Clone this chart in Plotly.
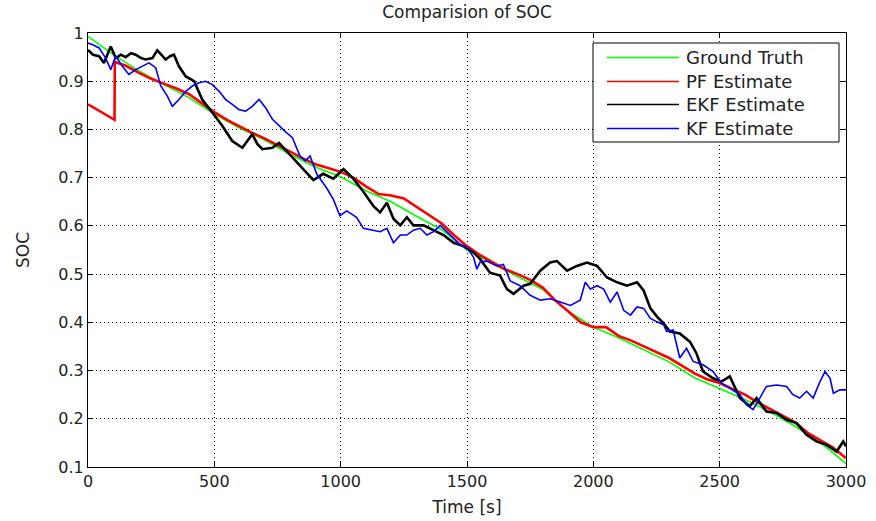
import plotly.graph_objects as go

# ---------------- data ----------------
t_gt = [0, 100, 200, 300, 400, 500, 600, 700, 800, 900, 1000, 1100, 1200, 1300, 1400,
        1500, 1600, 1700, 1800, 1900, 2000, 2100, 2200, 2300, 2400, 2500, 2600, 2700,
        2800, 2900, 3000]
soc_gt = [0.993, 0.955, 0.922, 0.893, 0.866, 0.832, 0.803, 0.778, 0.748, 0.722, 0.702,
          0.673, 0.650, 0.620, 0.592, 0.550, 0.522, 0.495, 0.468, 0.423, 0.390, 0.368,
          0.343, 0.318, 0.285, 0.263, 0.240, 0.214, 0.184, 0.150, 0.107]

t_pf = [0, 105, 106, 150, 200, 250, 300, 350, 400, 450, 500, 550, 600, 650, 700, 750,
        800, 850, 900, 950, 1000, 1050, 1100, 1150, 1200, 1250, 1300, 1350, 1400, 1450,
        1500, 1550, 1600, 1650, 1700, 1750, 1800, 1850, 1900, 1950, 2000, 2050, 2100,
        2150, 2200, 2250, 2300, 2350, 2400, 2450, 2500, 2550, 2600, 2650, 2700, 2750,
        2800, 2850, 2900, 2950, 3000]
soc_pf = [0.852, 0.820, 0.940, 0.932, 0.918, 0.905, 0.895, 0.885, 0.873, 0.855, 0.836,
          0.820, 0.806, 0.793, 0.781, 0.768, 0.754, 0.740, 0.728, 0.720, 0.712, 0.700,
          0.682, 0.666, 0.663, 0.657, 0.640, 0.622, 0.605, 0.580, 0.558, 0.540, 0.525,
          0.510, 0.500, 0.488, 0.472, 0.445, 0.423, 0.400, 0.390, 0.390, 0.372, 0.362,
          0.350, 0.338, 0.326, 0.310, 0.294, 0.282, 0.274, 0.262, 0.250, 0.234, 0.220,
          0.206, 0.192, 0.170, 0.155, 0.140, 0.118]

t_ekf = [0, 20, 44, 63, 90, 110, 130, 149, 170, 189, 210, 228, 255, 274, 290, 307, 325,
         340, 360, 387, 420, 452, 492, 532, 571, 611, 650, 670, 690, 730, 756, 786, 826,
         865, 892, 931, 971, 1011, 1050, 1090, 1130, 1156, 1183, 1209, 1236, 1262, 1288,
         1328, 1368, 1407, 1447, 1486, 1526, 1552, 1591, 1631, 1658, 1684, 1724, 1750,
         1790, 1829, 1856, 1896, 1935, 1975, 2015, 2054, 2094, 2133, 2173, 2199, 2226,
         2252, 2278, 2303, 2342, 2382, 2408, 2434, 2474, 2507, 2540, 2580, 2619, 2646,
         2685, 2725, 2765, 2804, 2844, 2883, 2923, 2963, 2989, 3000]
soc_ekf = [0.965, 0.955, 0.952, 0.938, 0.972, 0.948, 0.955, 0.950, 0.958, 0.955, 0.948,
           0.945, 0.948, 0.964, 0.955, 0.945, 0.952, 0.955, 0.931, 0.910, 0.900, 0.862,
           0.835, 0.807, 0.776, 0.762, 0.790, 0.770, 0.759, 0.762, 0.772, 0.755, 0.731,
           0.711, 0.695, 0.708, 0.698, 0.718, 0.698, 0.671, 0.641, 0.628, 0.648, 0.615,
           0.601, 0.618, 0.601, 0.601, 0.591, 0.581, 0.565, 0.558, 0.545, 0.531, 0.503,
           0.497, 0.469, 0.459, 0.476, 0.480, 0.507, 0.524, 0.527, 0.507, 0.517, 0.524,
           0.517, 0.493, 0.483, 0.476, 0.483, 0.466, 0.429, 0.412, 0.398, 0.381, 0.377,
           0.360, 0.336, 0.298, 0.284, 0.277, 0.288, 0.243, 0.226, 0.243, 0.215, 0.212,
           0.198, 0.191, 0.167, 0.153, 0.146, 0.132, 0.153, 0.143]

t_kf = [0, 17, 44, 70, 90, 110, 136, 162, 189, 215, 241, 268, 288, 314, 334, 360, 387,
        413, 439, 466, 492, 519, 545, 571, 598, 624, 650, 677, 703, 730, 756, 782, 809,
        839, 860, 879, 905, 945, 971, 997, 1024, 1063, 1090, 1130, 1156, 1183, 1209,
        1236, 1262, 1288, 1315, 1341, 1368, 1394, 1420, 1447, 1473, 1500, 1526, 1539,
        1552, 1578, 1618, 1644, 1671, 1710, 1750, 1790, 1829, 1869, 1909, 1948, 1968,
        1988, 2015, 2041, 2067, 2094, 2120, 2147, 2173, 2199, 2226, 2252, 2278, 2290,
        2316, 2342, 2369, 2395, 2434, 2474, 2507, 2540, 2580, 2606, 2632, 2659, 2685,
        2725, 2765, 2790, 2817, 2844, 2870, 2897, 2917, 2937, 2950, 2976, 3000]
soc_kf = [0.979, 0.976, 0.969, 0.948, 0.924, 0.952, 0.931, 0.914, 0.924, 0.931, 0.938,
          0.928, 0.890, 0.869, 0.848, 0.862, 0.879, 0.890, 0.897, 0.900, 0.893, 0.879,
          0.862, 0.852, 0.841, 0.838, 0.848, 0.862, 0.845, 0.821, 0.807, 0.795, 0.783,
          0.745, 0.735, 0.745, 0.708, 0.678, 0.655, 0.621, 0.631, 0.618, 0.595, 0.591,
          0.588, 0.595, 0.565, 0.581, 0.581, 0.591, 0.595, 0.581, 0.588, 0.601, 0.588,
          0.575, 0.561, 0.555, 0.535, 0.510, 0.525, 0.527, 0.517, 0.520, 0.486, 0.476,
          0.456, 0.446, 0.449, 0.442, 0.435, 0.446, 0.483, 0.469, 0.476, 0.469, 0.442,
          0.463, 0.425, 0.415, 0.432, 0.429, 0.408, 0.401, 0.395, 0.381, 0.384, 0.326,
          0.346, 0.319, 0.312, 0.298, 0.274, 0.263, 0.250, 0.229, 0.219, 0.243, 0.267,
          0.270, 0.267, 0.250, 0.243, 0.257, 0.243, 0.277, 0.298, 0.284, 0.253, 0.260,
          0.260]

names = ["Ground Truth", "PF Estimate", "EKF Estimate", "KF Estimate"]
colors = ["#00FF00", "#FF0000", "#000000", "#0000FF"]
x_ticks = [0, 500, 1000, 1500, 2000, 2500, 3000]
y_ticks = [0.1, 0.2, 0.3, 0.4, 0.5, 0.6, 0.7, 0.8, 0.9, 1.0]
y_tick_text = ["0.1", "0.2", "0.3", "0.4", "0.5", "0.6", "0.7", "0.8", "0.9", "1"]

FONT = "DejaVu Sans"
TXT = "#222222"
W, H = 876, 521
L, R, T, B = 88, 30, 33, 54

fig = go.Figure()
series = [(t_gt, soc_gt, 1.6), (t_pf, soc_pf, 2.6), (t_ekf, soc_ekf, 2.6), (t_kf, soc_kf, 1.6)]
for (tx, ty, w), nm, c in zip(series, names, colors):
    fig.add_trace(go.Scatter(x=tx, y=ty, mode="lines", name=nm, showlegend=False,
                             line=dict(color=c, width=w)))

axis_common = dict(
    showline=True, linecolor="black", linewidth=1, mirror="ticks",
    ticks="inside", ticklen=5, tickcolor="black", automargin=False,
    showgrid=True, gridcolor="black", griddash="1px,3px", gridwidth=1,
    zeroline=False, tickfont=dict(family=FONT, size=16, color=TXT),
)

# MATLAB-style legend box (drawn in paper coordinates)
pw, ph = W - L - R, H - T - B
def px(x):
    return (x - L) / pw
def py(y):
    return (H - B - y) / ph

shapes = [dict(type="rect", xref="paper", yref="paper", x0=px(593), x1=px(839),
               y0=py(142), y1=py(43), line=dict(color="black", width=1),
               fillcolor="white", layer="above")]
annotations = []
row_y = [57.5, 81.5, 104.5, 128.5]
for nm, c, ry in zip(names, colors, row_y):
    shapes.append(dict(type="line", xref="paper", yref="paper", x0=px(607), x1=px(679),
                       y0=py(ry), y1=py(ry), line=dict(color=c, width=1.5), layer="above"))
    annotations.append(dict(text=nm, xref="paper", yref="paper", x=px(684), y=py(ry),
                            xanchor="left", yanchor="middle", showarrow=False,
                            font=dict(family=FONT, size=18, color=TXT)))

fig.update_layout(
    width=W, height=H,
    margin=dict(l=L, r=R, t=T, b=B),
    paper_bgcolor="white", plot_bgcolor="white",
    title=dict(text="Comparision of SOC", x=(88 + 846) / 2 / W, xanchor="center",
               y=1 - 12 / H, yanchor="middle", yref="container",
               font=dict(family=FONT, size=17, color=TXT)),
    xaxis=dict(range=[0, 3000], tickvals=x_ticks,
               title=dict(text="Time [s]", font=dict(family=FONT, size=17, color=TXT),
                          standoff=10),
               **axis_common),
    yaxis=dict(range=[0.1, 1.0], tickvals=y_ticks, ticktext=y_tick_text,
               title=dict(text="SOC", font=dict(family=FONT, size=17, color=TXT),
                          standoff=24),
               **axis_common),
    shapes=shapes, annotations=annotations,
    showlegend=False,
)

fig.write_html("out.html")
